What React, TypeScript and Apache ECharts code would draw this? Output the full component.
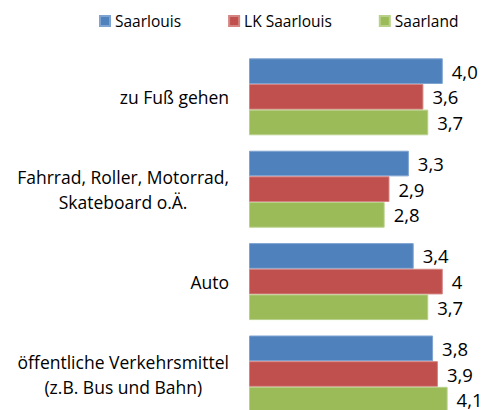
import React, { useEffect, useRef } from "react";
import * as echarts from "echarts";

const categories = [
  "zu Fuß gehen",
  "Fahrrad, Roller, Motorrad,\nSkateboard o.Ä.",
  "Auto",
  "öffentliche Verkehrsmittel\n(z.B. Bus und Bahn)",
];
const seriesNames = ["Saarlouis", "LK Saarlouis", "Saarland"];
const saarlouis = [4.0, 3.3, 3.4, 3.8];
const lkSaarlouis = [3.6, 2.9, 4.0, 3.9];
const saarland = [3.7, 2.8, 3.7, 4.1];
const saarlouisLabels = ["4,0", "3,3", "3,4", "3,8"];
const lkSaarlouisLabels = ["3,6", "2,9", "4", "3,9"];
const saarlandLabels = ["3,7", "2,8", "3,7", "4,1"];
const colors = ["#4F81BD", "#C0504D", "#9BBB59"];
const borders = ["#7FA3D0", "#D48482", "#B8D08A"];

const FONT = "Open Sans";

export default function App() {
  const ref = useRef<HTMLDivElement>(null);
  useEffect(() => {
    if (!ref.current) return;
    const chart = echarts.init(ref.current, undefined, { renderer: "svg" });
    const values = [saarlouis, lkSaarlouis, saarland];
    const labels = [saarlouisLabels, lkSaarlouisLabels, saarlandLabels];
    chart.setOption({
      animation: false,
      backgroundColor: "#ffffff",
      textStyle: { fontFamily: FONT },
      legend: {
        left: 99,
        top: 13,
        padding: 0,
        itemWidth: 10,
        itemHeight: 10,
        itemGap: 47,
        icon: "rect",
        data: seriesNames,
        textStyle: { fontSize: 15.5, color: "#000", fontFamily: FONT },
      },
      grid: {
        left: 249,
        width: 218,
        top: 50.6,
        bottom: 9.8,
        containLabel: false,
        outerBoundsMode: "none",
      },
      xAxis: {
        type: "value",
        min: 0,
        max: 4.5,
        show: false,
      },
      yAxis: {
        type: "category",
        inverse: true,
        data: categories,
        axisLine: { show: false },
        axisTick: { show: false },
        axisLabel: {
          margin: 20,
          color: "#000",
          fontFamily: FONT,
          fontSize: 17.5,
          align: "right",
          lineHeight: 25,
          formatter: (v: string) =>
            v
              .split("\n")
              .map((l) => `{c|${l}}`)
              .join("\n"),
          rich: {
            c: {
              align: "center",
              fontSize: 17.5,
              lineHeight: 25,
              color: "#000",
              fontFamily: FONT,
            },
          },
        },
      },
      series: seriesNames.map((name, i) => ({
        name,
        type: "bar",
        data: values[i],
        barGap: "0%",
        barCategoryGap: "16.7%",
        itemStyle: { color: colors[i], borderColor: borders[i], borderWidth: 1 },
        label: {
          show: true,
          position: "right",
          distance: 9,
          fontSize: 18.5,
          color: "#000",
          fontFamily: FONT,
          formatter: (p: any) => labels[i][p.dataIndex],
        },
      })),
    });
    return () => chart.dispose();
  }, []);
  return (
    <div
      style={{
        position: "absolute",
        left: 0,
        top: 0,
        width: 486,
        height: 410,
        overflow: "hidden",
      }}
    >
      <div ref={ref} style={{ width: 486, height: 430 }} />
    </div>
  );
}
